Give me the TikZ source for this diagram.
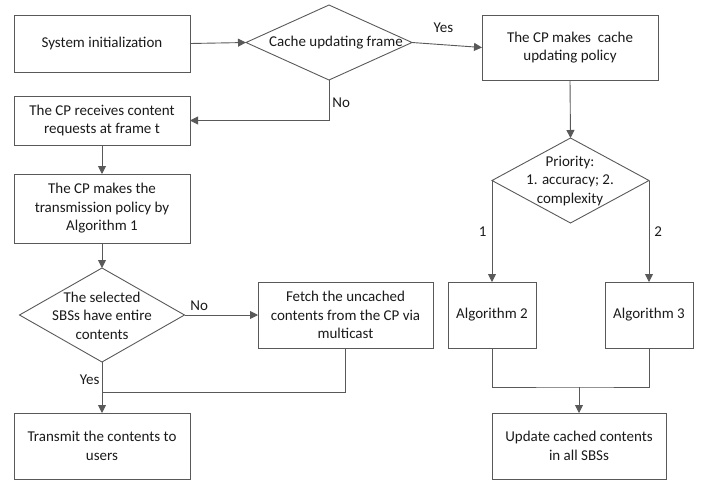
\documentclass[tikz,border=0pt]{standalone}
\usepackage{fontspec}
\setmainfont{Carlito}
\usetikzlibrary{shapes.geometric,arrows.meta}
\definecolor{lc}{HTML}{595959}
\definecolor{tc}{HTML}{1A1A1A}
\begin{document}
\begin{tikzpicture}[x=1pt,y=-1pt,
  every node/.style={font=\fontsize{15pt}{18.5pt}\selectfont, text=tc},
  box/.style={draw=lc, line width=0.9pt, rectangle, inner sep=0pt, outer sep=0pt, align=center},
  decision/.style={draw=lc, line width=0.9pt, diamond, inner sep=0pt, outer sep=0pt},
  lbl/.style={align=center, inner sep=0pt},
  conn/.style={draw=lc, line width=0.9pt},
  arr/.style={conn, -{Triangle[length=8pt,width=8pt]}}
]
\useasboundingbox (0,0) rectangle (710,483);

% left column
\node[box, minimum width=176pt, minimum height=57pt] (b1) at (102,43.5) {System initialization};
\node[box, minimum width=176pt, minimum height=49pt] (b2) at (102,120.5) {The CP receives content\\requests at frame t};
\node[box, minimum width=176pt, minimum height=69pt] (b3) at (102,208.5) {The CP makes the\\transmission policy by\\Algorithm 1};
\node[decision, minimum width=165pt, minimum height=94pt] (d2) at (102,315) {};
\node[lbl] (d2t) at (102,315.5) {The selected\\SBSs have entire\\contents};
\node[box, minimum width=176pt, minimum height=66pt] (tr) at (102,446) {Transmit the contents to\\users};
\node[box, minimum width=175pt, minimum height=66pt] (fe) at (345.5,315) {Fetch the uncached\\contents from the CP via\\multicast};

% top diamond
\node[decision, minimum width=166pt, minimum height=75pt] (d1) at (329,42.5) {};
\node[lbl] (d1t) at (336,43) {Cache updating frame};

% right column
\node[box, minimum width=176pt, minimum height=65pt] (cp) at (570,47.5) {The CP makes\ \ cache\\updating policy};
\node[decision, minimum width=157pt, minimum height=85pt] (d3) at (570.5,180.5) {};
\node[lbl] (d3t) at (570,181) {Priority:\\1. accuracy; 2.\\complexity};
\node[box, minimum width=88pt, minimum height=66pt] (a2) at (492,315) {Algorithm 2};
\node[box, minimum width=88pt, minimum height=66pt] (a3) at (649,315) {Algorithm 3};
\node[box, minimum width=174pt, minimum height=66pt] (up) at (579,446) {Update cached contents\\in all SBSs};

\coordinate (j1) at (102,392);
\coordinate (j2) at (579,387);

% connectors
\draw[arr] (b1.east) -- (d1.west);
\draw[arr] (d1.east) -- node[lbl, above=12pt, pos=0.45] (yes1) {Yes} (cp.west);
\draw[arr] (d1.south) |- node[lbl, pos=0.28, right=3pt] (no1) {No} (b2.east);
\draw[arr] (b2.south) -- (b3.north);
\draw[arr] (b3.south) -- (d2.north);
\draw[arr] (d2.east) -- node[lbl, above=4pt, pos=0.2] (no2) {No} (fe.west);
\draw[arr] (d2.south) -- node[lbl, left=2pt, pos=0.35] (yes2) {Yes} (tr.north);
\draw[conn] (fe.south) |- (j1);
\draw[arr] (cp.south) -- (d3.north);
\draw[arr] (d3.west) -- node[lbl, left=5pt, pos=0.5] (l1) {1} (a2.north);
\draw[arr] (d3.east) -- node[lbl, right=5pt, pos=0.5] (l2) {2} (a3.north);
\draw[conn] (a2.south) |- (j2) -| (a3.south);
\draw[arr] (j2) -- (up.north);
\end{tikzpicture}
\end{document}
